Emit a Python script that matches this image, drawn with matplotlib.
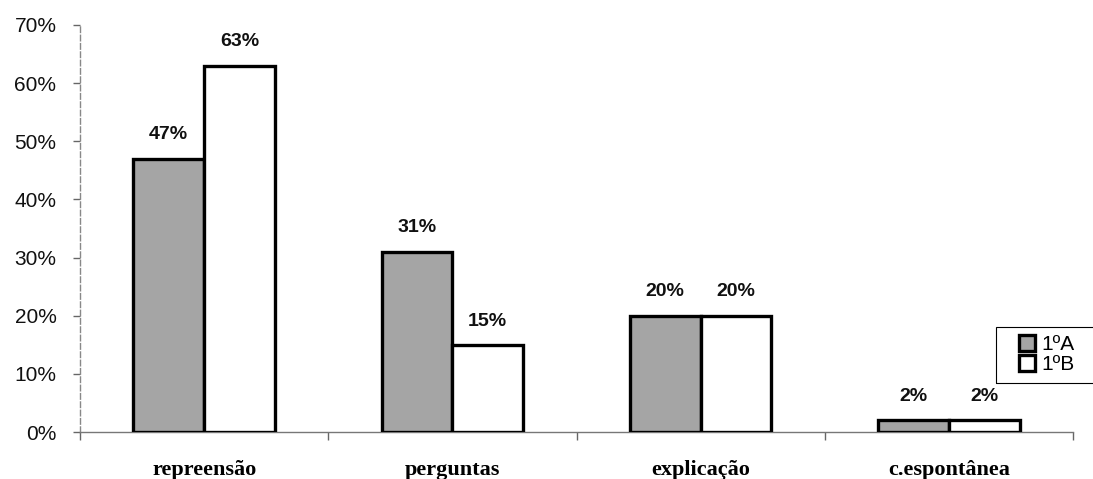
import numpy as np
import matplotlib.pyplot as plt
from matplotlib.patches import Rectangle
from matplotlib.ticker import FuncFormatter

# percentages per behaviour category, two classes
categories = ['repreensão', 'perguntas', 'explicação', 'c.espontânea']
turma_a = [47, 31, 20, 2]
turma_b = [63, 15, 20, 2]
series_names = ['1ºA', '1ºB']

fig = plt.figure(figsize=(10.93, 4.79), dpi=100)
ax = fig.add_axes([80 / 1093, 47 / 479, 993 / 1093, 407 / 479])

x = np.arange(len(categories))
w = 0.285
bars_a = ax.bar(x - w / 2, turma_a, w, color='#a5a5a5', edgecolor='black',
                linewidth=2.4, label=series_names[0], zorder=3)
bars_b = ax.bar(x + w / 2, turma_b, w, color='white', edgecolor='black',
                linewidth=2.4, label=series_names[1], zorder=3)

for bars, vals in ((bars_a, turma_a), (bars_b, turma_b)):
    for b, v in zip(bars, vals):
        ax.annotate(f'{v}%', (b.get_x() + b.get_width() / 2, v),
                    xytext=(0, 11), textcoords='offset points',
                    ha='center', va='bottom', fontsize=14,
                    family='Liberation Sans', fontweight='bold', color='#111111')

ax.set_xlim(-0.5, len(categories) - 0.5)
ax.set_ylim(0, 70)
ax.set_yticks(range(0, 71, 10))
ax.yaxis.set_major_formatter(FuncFormatter(lambda v, p: f'{v:.0f}%'))
for lbl in ax.get_yticklabels():
    lbl.set_family('Liberation Sans')
    lbl.set_fontsize(15)
    lbl.set_color('#111111')

# category labels centred, ticks at the category boundaries
ax.set_xticks(np.arange(-0.5, len(categories)), minor=False)
ax.set_xticklabels([])
ax.set_xticks(x, minor=True)
ax.set_xticklabels(categories, minor=True, family='Liberation Serif',
                   fontsize=16, fontweight='bold')
ax.tick_params(axis='x', which='minor', length=0, pad=20)
ax.tick_params(axis='x', which='major', length=6, color='#666666', width=1)
ax.tick_params(axis='y', length=5, color='#666666', width=1, pad=12)

for s in ('top', 'right'):
    ax.spines[s].set_visible(False)
ax.spines['left'].set_color('#888888')
ax.spines['left'].set_linestyle((0, (4, 2)))
ax.spines['left'].set_linewidth(1)
ax.spines['bottom'].set_color('#777777')
ax.spines['bottom'].set_linewidth(1)

# legend without its own frame; the box runs off the right edge
leg = ax.legend(loc='upper left', frameon=False,
                handlelength=0.75, handleheight=0.75, handletextpad=0.3,
                borderpad=0.35, labelspacing=0.05, borderaxespad=0,
                prop={'family': 'Liberation Sans', 'size': 15})
leg.set_bbox_to_anchor((1012 / 1093, 1 - 328 / 479), transform=fig.transFigure)
fig.patches.append(Rectangle((996 / 1093, 1 - 383 / 479), 110 / 1093, 56 / 479,
                             transform=fig.transFigure, fill=False,
                             edgecolor='black', linewidth=0.8))

fig.savefig('out.png', dpi=100)
